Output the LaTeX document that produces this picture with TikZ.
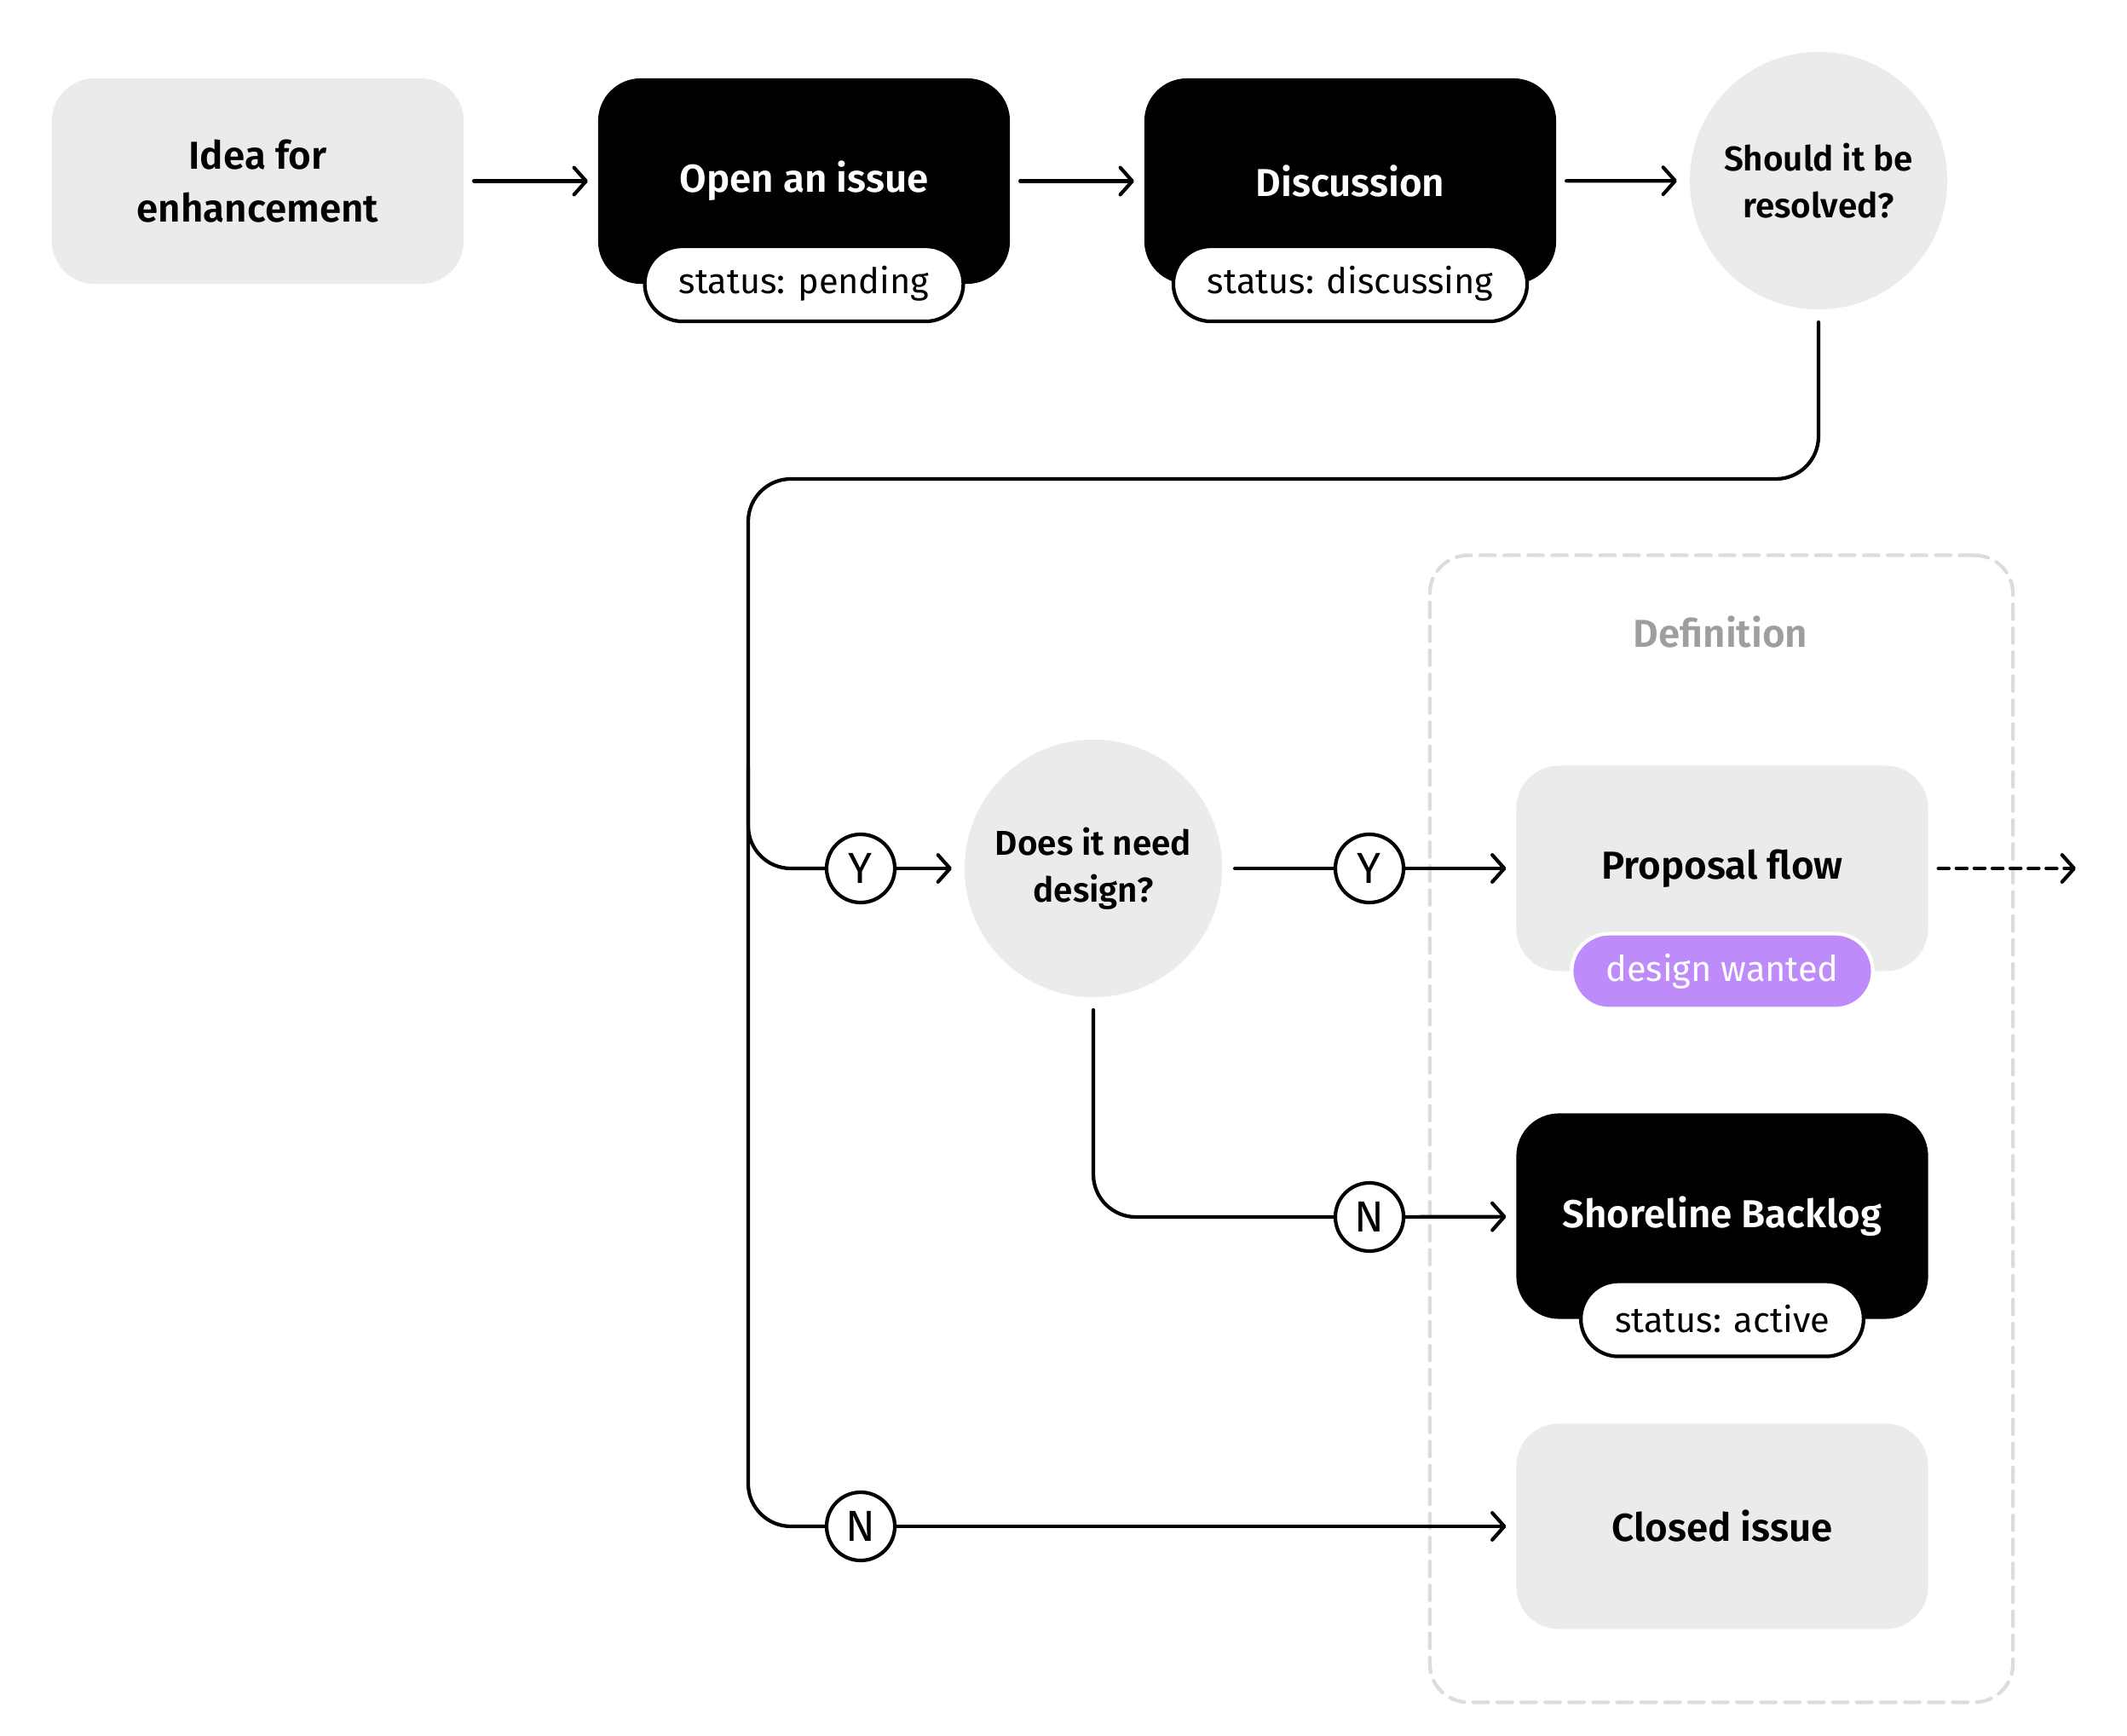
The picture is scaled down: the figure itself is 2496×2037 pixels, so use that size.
\documentclass[tikz,border=0pt]{standalone}
\usepackage{fontspec}
\setmainfont{Fira Sans}[BoldFont={Fira Sans SemiBold}]
\usetikzlibrary{arrows.meta}
\definecolor{boxgray}{HTML}{EBEBEB}
\definecolor{tagpurple}{HTML}{BE8CFA}
\definecolor{framegray}{HTML}{DCDCDC}
\definecolor{labelgray}{HTML}{9E9E9E}
\begin{document}
\begin{tikzpicture}[x=0.01cm, y=-0.01cm, line cap=round,
    box/.style={rounded corners=0.5cm, minimum width=4.83cm, minimum height=2.41cm, align=center, outer sep=0.12cm, font=\bfseries\fontsize{13}{17.5}\selectfont},
    lightbox/.style={box, fill=boxgray},
    darkbox/.style={box, fill=black, text=white},
    question/.style={circle, fill=boxgray, minimum size=3.02cm, inner sep=0pt, align=center, outer sep=0.15cm, font=\bfseries\fontsize{11.5}{15.5}\selectfont},
    tag/.style={rounded corners=0.44cm, minimum height=0.88cm, inner xsep=0.4cm, line width=1.2pt, font=\fontsize{11.8}{14}\selectfont},
    answer/.style={circle, draw, line width=1.2pt, fill=white, minimum size=0.8cm, inner sep=0pt, font=\fontsize{14.5}{15}\selectfont},
    flow/.style={line width=1.2pt, rounded corners=0.5cm},
    tip/.style={-{Straight Barb[length=4pt,width=9pt,round]}}]
      \useasboundingbox (0,0) rectangle (2496,2037);

      \node[draw=framegray, line width=1.2pt, dash pattern=on 5pt off 3pt, rounded corners=0.45cm, minimum width=6.84cm, minimum height=13.45cm] (definition) at (2020,1324.5) {};
      \node[text=labelgray, font=\bfseries\fontsize{13}{15}\selectfont] (deflabel) at (2019,742) {Definition};

      \node[lightbox] (idea) at (302.5,212.5) {Idea for\\enhancement};
      \node[darkbox] (issue) at (943.5,212.5) {Open an issue};
      \node[darkbox] (disc) at (1584.5,212.5) {Discussion};
      \node[question] (resolve) at (2134,212) {Should it be\\resolved?};

      \node[tag, draw=black, fill=white] (pending) at ([yshift=0.12cm]issue.south) {status: pending};
      \node[tag, draw=black, fill=white] (discussing) at ([yshift=0.12cm]disc.south) {status: discussing};

      \node[answer] (yes1) at (1010,1019) {Y};
      \node[question] (design) at (1283,1019) {Does it need\\design?};
      \node[answer] (yes2) at (1607,1019) {Y};
      \node[lightbox] (proposal) at (2021,1019) {Proposal flow};
      \node[tag, draw=white, fill=tagpurple, text=white] (wanted) at ([yshift=0.12cm]proposal.south) {design wanted};

      \node[answer] (no1) at (1607,1428) {N};
      \node[darkbox] (backlog) at (2021,1427) {Shoreline Backlog};
      \node[tag, draw=black, fill=white] (active) at ([yshift=0.12cm]backlog.south) {status: active};

      \node[answer] (no2) at (1010,1791) {N};
      \node[lightbox] (closed) at (2021,1791) {Closed issue};

      \coordinate (railtop) at (878,562);
      \coordinate (railmid) at (878,900);
      \coordinate (beyond) at (2436,1019);

      \draw[flow, tip] (idea) -- (issue);
      \draw[flow, tip] (issue) -- (disc);
      \draw[flow, tip] (disc) -- (resolve);
      \draw[flow] (resolve) |- (railtop) |- (no2);
      \draw[flow] (railmid) |- (yes1);
      \draw[flow, tip] (yes1) -- (design);
      \draw[flow] (design) -- (yes2);
      \draw[flow, tip] (yes2) -- (proposal);
      \draw[flow, tip, dash pattern=on 3.5pt off 2.5pt] (proposal) -- (beyond);
      \draw[flow] (design) |- (no1);
      \draw[flow, tip] (no1) -- (backlog);
      \draw[flow, tip] (no2) -- (closed);
    \end{tikzpicture}
\end{document}
